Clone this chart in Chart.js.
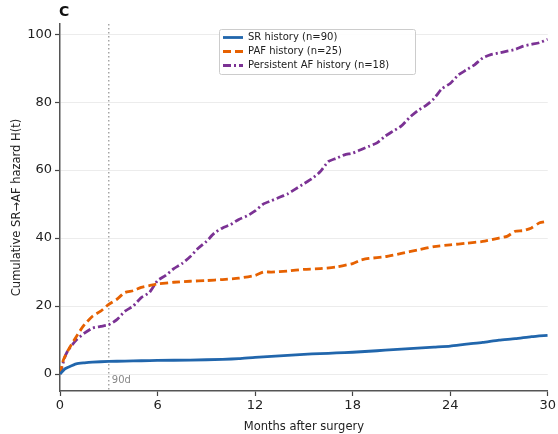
<!DOCTYPE html>
<html>
<head>
<meta charset="utf-8">
<script src="https://cdn.jsdelivr.net/npm/chart.js@4"></script>
<style>
  html, body { margin: 0; padding: 0; background: #fff; }
  #wrap { width: 558px; height: 434px; position: relative; }
</style>
</head>
<body>
<div id="wrap"><canvas id="hazardChart"></canvas></div>
<script>
// months after surgery for each series
const srMonths   = [0, 0.3, 0.5, 1, 1.5, 2, 3, 4, 5, 6, 8, 10, 11, 12, 13, 14, 15, 16, 17, 18, 19, 20, 21, 22, 23, 24, 25, 26, 27, 28, 29, 30];
const srValues   = [0, 1.5, 2, 3, 3.3, 3.5, 3.7, 3.8, 3.9, 4, 4.1, 4.3, 4.5, 4.9, 5.2, 5.5, 5.8, 6, 6.2, 6.4, 6.7, 7, 7.3, 7.6, 7.9, 8.2, 8.8, 9.3, 10, 10.4, 11, 11.4];

const pafMonths  = [0, 0.2, 0.5, 1, 1.5, 2, 2.5, 3, 3.5, 4, 4.5, 5, 5.5, 6, 7, 8, 9, 10, 11, 12, 12.5, 13, 14, 15, 16, 17, 18, 18.5, 19, 20, 21, 22, 23, 24, 25, 26, 27, 27.5, 28, 28.5, 29, 29.5, 30];
const pafValues  = [0, 4, 7, 11, 14.5, 17, 18.5, 20.5, 22, 24, 24.5, 25.5, 26, 26.5, 27, 27.3, 27.5, 27.8, 28.2, 29, 30, 30, 30.3, 30.8, 31, 31.5, 32.5, 33.5, 34, 34.5, 35.5, 36.5, 37.5, 38, 38.5, 39, 40, 40.5, 42, 42.2, 43, 44.5, 45];

const persMonths = [0, 0.3, 0.5, 1, 1.5, 2, 2.5, 3, 3.5, 4, 4.5, 5, 5.5, 6, 6.5, 7, 7.5, 8, 8.5, 9, 9.5, 10, 10.5, 11, 11.5, 12, 12.5, 13, 13.5, 14, 14.5, 15, 15.5, 16, 16.5, 17, 17.5, 18, 18.5, 19, 19.5, 20, 20.5, 21, 21.5, 22, 22.5, 23, 23.5, 24, 24.5, 25, 25.5, 26, 26.5, 27, 27.5, 28, 28.5, 29, 29.5, 30];
const persValues = [0, 5, 7, 10, 12, 13.5, 14, 14.5, 16, 18.5, 20, 22.5, 24, 27.5, 29, 31, 32.5, 34.5, 37, 39, 41.5, 43, 44, 45.5, 46.5, 48, 50, 51, 52, 53, 54.5, 56, 57.5, 59.5, 62.5, 63.5, 64.5, 65, 66, 67, 68, 70, 71.5, 73, 75.5, 77.5, 79, 81, 84, 85.5, 88, 89.5, 91, 93, 94, 94.5, 95, 95.5, 96.5, 97, 97.5, 98.5];

const seriesLabels = ["SR history (n=90)", "PAF history (n=25)", "Persistent AF history (n=18)"];
const seriesColors = ["#2166ac", "#e66101", "#7b3294"];
const seriesDash   = [[], [8, 4], [8, 3, 2, 3]];

const xTicks = [0, 6, 12, 18, 24, 30];
const yTicks = [0, 20, 40, 60, 80, 100];
const markerMonth = 3;
const markerLabel = "90d";

const font = "'DejaVu Sans', sans-serif";

function toPoints(xs, ys) {
  return xs.map((x, i) => ({ x, y: ys[i] }));
}

const datasets = [
  toPoints(srMonths, srValues),
  toPoints(pafMonths, pafValues),
  toPoints(persMonths, persValues)
].map((pts, i) => ({
  label: seriesLabels[i],
  data: pts,
  borderColor: seriesColors[i],
  backgroundColor: seriesColors[i],
  borderWidth: 2.8,
  borderDash: seriesDash[i],
  pointRadius: 0,
  tension: 0.2,
  fill: false
}));

// dotted 90d line, panel letter and legend box
const extras = {
  id: "extras",
  beforeDatasetsDraw(chart) {
    const { ctx, chartArea, scales } = chart;
    const px = scales.x.getPixelForValue(markerMonth);
    ctx.save();
    ctx.strokeStyle = "#999";
    ctx.lineWidth = 1.3;
    ctx.setLineDash([1.5, 2.5]);
    ctx.beginPath();
    ctx.moveTo(px, chartArea.top);
    ctx.lineTo(px, chartArea.bottom);
    ctx.stroke();
    ctx.setLineDash([]);
    ctx.fillStyle = "#888";
    ctx.font = "10px " + font;
    ctx.textBaseline = "middle";
    ctx.fillText(markerLabel, px + 3, scales.y.getPixelForValue(-1.5) + 1);
    ctx.restore();
  },
  afterDraw(chart) {
    const { ctx } = chart;
    ctx.save();
    ctx.fillStyle = "#111";
    ctx.font = "bold 14px " + font;
    ctx.textBaseline = "middle";
    ctx.fillText("C", 59, 12);

    const bx = 219.5, by = 29.5, bw = 196, bh = 45;
    ctx.fillStyle = "rgba(255,255,255,0.9)";
    ctx.strokeStyle = "#ccc";
    ctx.lineWidth = 1;
    ctx.beginPath();
    ctx.roundRect(bx, by, bw, bh, 2);
    ctx.fill();
    ctx.stroke();

    ctx.font = "10px " + font;
    chart.data.datasets.forEach((ds, i) => {
      const y = 37.5 + i * 14;
      ctx.strokeStyle = ds.borderColor;
      ctx.lineWidth = 2.8;
      ctx.setLineDash(ds.borderDash);
      ctx.beginPath();
      ctx.moveTo(223, y);
      ctx.lineTo(243, y);
      ctx.stroke();
      ctx.setLineDash([]);
      ctx.fillStyle = "#222";
      ctx.fillText(ds.label, 248, y);
    });
    ctx.restore();
  }
};

new Chart(document.getElementById("hazardChart"), {
  type: "line",
  data: { datasets },
  plugins: [extras],
  options: {
    responsive: true,
    maintainAspectRatio: false,
    animation: false,
    layout: { padding: { top: 24, right: 10, left: 0, bottom: 0 } },
    plugins: {
      legend: { display: false },
      tooltip: { enabled: false }
    },
    scales: {
      x: {
        type: "linear",
        min: 0,
        max: 30,
        afterBuildTicks: s => { s.ticks = xTicks.map(v => ({ value: v })); },
        afterFit: s => { s.height = 43; },
        grid: { drawOnChartArea: false, tickLength: 5, tickColor: "#444", tickWidth: 1.2 },
        border: { color: "#555", width: 1.5 },
        ticks: { color: "#222", font: { family: font, size: 13 }, padding: 2, maxRotation: 0 },
        title: { display: true, text: "Months after surgery", color: "#222", font: { family: font, size: 11.5 }, padding: { top: 5, bottom: 0 } }
      },
      y: {
        min: -5,
        max: 103,
        afterBuildTicks: s => { s.ticks = yTicks.map(v => ({ value: v })); },
        afterFit: s => { s.width = 60; },
        grid: { color: "#ececec", lineWidth: 1, tickLength: 5, tickColor: "#444", tickWidth: 1.2 },
        border: { color: "#555", width: 1.5 },
        ticks: { color: "#222", font: { family: font, size: 13 }, padding: 3 },
        title: { display: true, text: "Cumulative SR→AF hazard H(t)", color: "#222", font: { family: font, size: 11.5 }, padding: { top: 10, bottom: 0 } }
      }
    }
  }
});
</script>
</body>
</html>
